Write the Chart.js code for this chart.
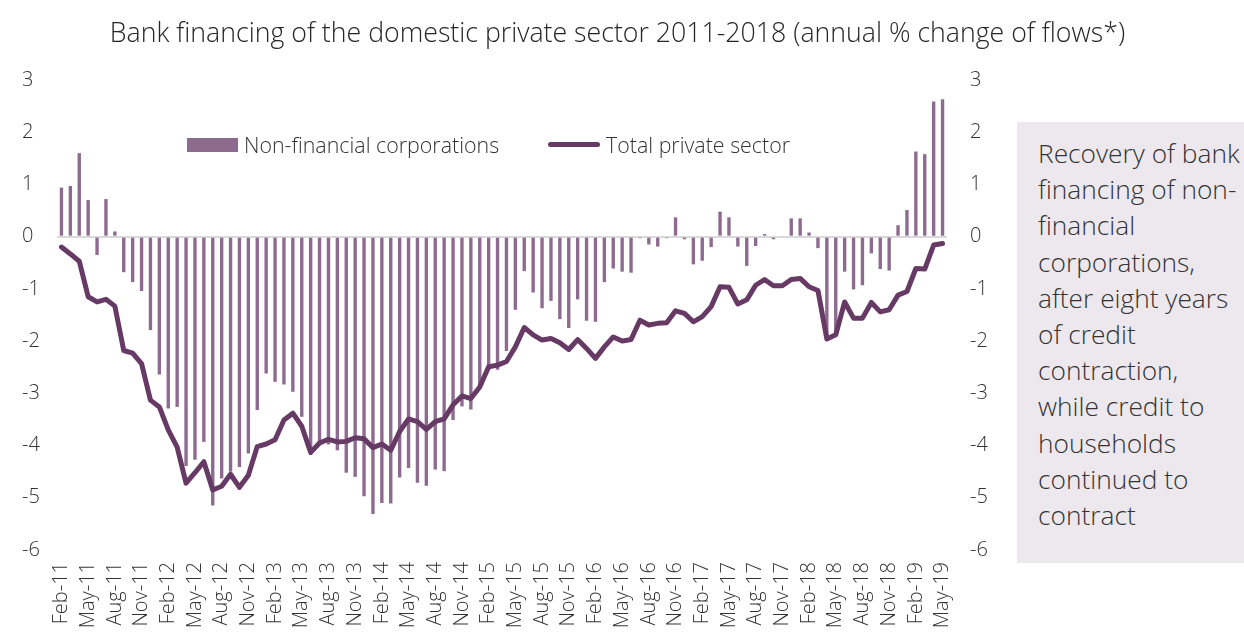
<!DOCTYPE html>
<html>
<head>
<meta charset="utf-8">
<script src="https://cdn.jsdelivr.net/npm/chart.js@4.4.1/dist/chart.umd.min.js"></script>
<style>
  html, body { margin: 0; padding: 0; background: #ffffff; overflow: hidden; }
  #wrap { position: relative; width: 1244px; height: 632px; font-family: "Open Sans", sans-serif; color: #333333; }
  #chart { position: absolute; left: 0; top: 0; }
  #title { position: absolute; left: 0; width: 1235px; top: 14px; text-align: center; font-size: 26.7px; font-weight: 300; color: #262626; white-space: nowrap; line-height: 36px; }
  .leg { position: absolute; top: 131px; height: 28px; font-size: 21.4px; font-weight: 300; line-height: 28px; color: #333333; white-space: nowrap; }
  .leg .sw { position: absolute; }
  #note { position: absolute; left: 1017px; top: 122px; width: 227px; height: 441px; background: #ede8ee; box-sizing: border-box; padding: 13px 0 0 21px; font-size: 26.3px; font-weight: 300; line-height: 36.2px; color: #333333; white-space: nowrap; overflow: hidden; }
</style>
</head>
<body>
<div id="wrap">
  <canvas id="chart" width="1244" height="632"></canvas>
  <div id="title">Bank financing of the domestic private sector 2011-2018 (annual % change of flows*)</div>
  <div class="leg" style="left:187px;"><span class="sw" style="left:0;top:7px;width:51px;height:14px;background:#8d6b8f;"></span><span style="position:absolute;left:57px;">Non-financial corporations</span></div>
  <div class="leg" style="left:548px;"><span class="sw" style="left:0;top:11px;width:52px;height:5px;border-radius:3px;background:#663a64;"></span><span style="position:absolute;left:58px;">Total private sector</span></div>
  <div id="note">Recovery of bank<br>financing of non-<br>financial<br>corporations,<br>after eight years<br>of credit<br>contraction,<br>while credit to<br>households<br>continued to<br>contract</div>
</div>
<script>
// Monthly observations, Feb-2011 .. May-2019
const monthNames = ['Jan','Feb','Mar','Apr','May','Jun','Jul','Aug','Sep','Oct','Nov','Dec'];
const categories = [];
for (let i = 0; i < 100; i++) {
  const m = (1 + i) % 12;
  const y = 11 + Math.floor((1 + i) / 12);
  categories.push(monthNames[m] + '-' + y);
}

// Non-financial corporations (bars)
const nonFinancialCorporations = [
  0.94, 0.97, 1.60, 0.70, -0.35, 0.72, 0.10, -0.68, -0.87, -1.04,
  -1.79, -2.64, -3.29, -3.26, -4.39, -4.27, -3.93, -5.15, -4.63, -4.50,
  -4.41, -4.15, -3.32, -2.62, -2.78, -2.83, -2.97, -3.45, -4.18, -3.93,
  -3.98, -4.09, -4.52, -4.60, -4.97, -5.31, -5.10, -5.11, -4.61, -4.43,
  -4.71, -4.77, -4.46, -4.49, -3.51, -3.25, -3.31, -2.85, -2.55, -2.55,
  -2.19, -1.40, -0.66, -1.07, -1.37, -1.23, -1.58, -1.75, -1.20, -1.61,
  -1.63, -0.87, -0.61, -0.67, -0.69, -0.03, -0.15, -0.19, -0.03, 0.37,
  -0.05, -0.53, -0.46, -0.20, 0.48, 0.37, -0.19, -0.56, -0.18, 0.05,
  -0.05, 0.02, 0.35, 0.35, 0.08, -0.22, -1.95, -1.88, -0.67, -1.01,
  -0.93, -0.32, -0.62, -0.65, 0.22, 0.51, 1.63, 1.58, 2.59, 2.63
];

// Total private sector (line)
const totalPrivateSector = [
  -0.20, -0.33, -0.47, -1.15, -1.25, -1.20, -1.33, -2.18, -2.23, -2.43,
  -3.13, -3.26, -3.70, -4.03, -4.72, -4.52, -4.31, -4.85, -4.78, -4.55,
  -4.80, -4.57, -4.02, -3.97, -3.89, -3.51, -3.38, -3.63, -4.13, -3.95,
  -3.88, -3.93, -3.92, -3.85, -3.87, -4.04, -3.97, -4.09, -3.73, -3.49,
  -3.54, -3.69, -3.54, -3.49, -3.22, -3.05, -3.10, -2.88, -2.49, -2.46,
  -2.39, -2.11, -1.74, -1.88, -1.98, -1.95, -2.03, -2.16, -1.97, -2.14,
  -2.33, -2.11, -1.92, -2.00, -1.97, -1.60, -1.69, -1.66, -1.65, -1.42,
  -1.47, -1.63, -1.53, -1.34, -0.96, -0.97, -1.29, -1.21, -0.93, -0.82,
  -0.94, -0.94, -0.82, -0.80, -0.96, -1.03, -1.96, -1.88, -1.25, -1.56,
  -1.56, -1.26, -1.44, -1.40, -1.12, -1.05, -0.61, -0.62, -0.16, -0.13
];

// Value axis range, shown on both sides
const yMin = -6;
const yMax = 3;
const labelEvery = 3;

const tickFont = { family: 'Open Sans', size: 20, weight: '300' };

new Chart(document.getElementById('chart'), {
  data: {
    labels: categories,
    datasets: [
      {
        type: 'line',
        label: 'Total private sector',
        data: totalPrivateSector,
        borderColor: '#663a64',
        borderWidth: 5,
        pointRadius: 0,
        tension: 0,
        borderJoinStyle: 'round',
        borderCapStyle: 'round',
        order: 0,
        yAxisID: 'y'
      },
      {
        type: 'bar',
        label: 'Non-financial corporations',
        data: nonFinancialCorporations,
        backgroundColor: '#8d6b8f',
        categoryPercentage: 1,
        barPercentage: 0.38,
        order: 1,
        yAxisID: 'y'
      }
    ]
  },
  options: {
    responsive: false,
    animation: false,
    devicePixelRatio: 1,
    layout: { padding: { left: 22, right: 244, top: 80, bottom: 0 } },
    plugins: {
      legend: { display: false },
      title: { display: false },
      tooltip: { enabled: false }
    },
    scales: {
      x: {
        type: 'category',
        offset: true,
        grid: { display: false, drawTicks: false },
        border: { display: false },
        ticks: {
          autoSkip: false,
          minRotation: 90,
          maxRotation: 90,
          padding: 12,
          color: '#333333',
          font: tickFont,
          callback: function (value, index) {
            return index % labelEvery === 0 ? this.getLabelForValue(value) : '';
          }
        },
        afterFit: (scale) => { scale.height = 82; }
      },
      y: {
        position: 'left',
        min: yMin,
        max: yMax,
        grid: {
          drawTicks: false,
          lineWidth: 2,
          color: (ctx) => (ctx.tick && ctx.tick.value === 0 ? '#d9d9d9' : 'rgba(0,0,0,0)')
        },
        border: { display: false },
        ticks: {
          stepSize: 1,
          crossAlign: 'far',
          color: '#333333',
          font: tickFont
        },
        afterFit: (scale) => { scale.width = 35; }
      },
      y2: {
        position: 'right',
        min: yMin,
        max: yMax,
        grid: { display: false, drawTicks: false },
        border: { display: false },
        ticks: {
          stepSize: 1,
          padding: 23,
          color: '#333333',
          font: tickFont
        },
        afterFit: (scale) => { scale.width = 53; }
      }
    }
  }
});
</script>
</body>
</html>
